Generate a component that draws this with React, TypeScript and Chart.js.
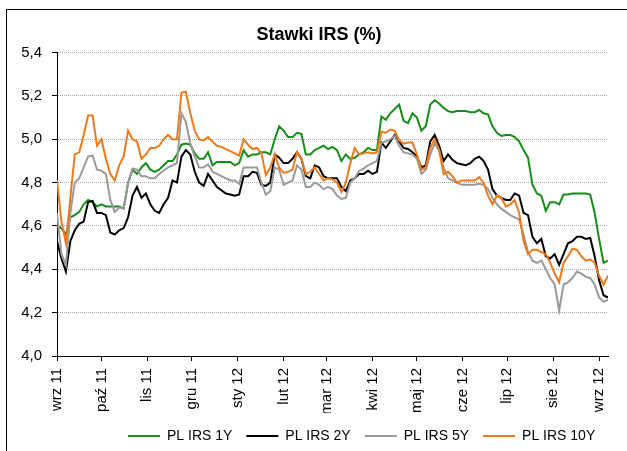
import React, { useEffect, useRef } from "react";
import { Chart, registerables } from "chart.js";

Chart.register(...registerables);

// x positions: calendar days counted from 1 Sep 2011
const days = [
  0, 3, 6, 9, 12, 15, 18, 21, 24, 27,
  30, 33, 36, 39, 42, 45, 48, 51, 54, 57,
  60, 63, 66, 69, 72, 75, 78, 81, 84, 87,
  90, 93, 96, 99, 102, 105, 108, 111, 114, 117,
  120, 123, 126, 129, 132, 135, 138, 141, 144, 147,
  150, 153, 156, 159, 162, 165, 168, 171, 174, 177,
  180, 183, 186, 189, 192, 195, 198, 201, 204, 207,
  210, 213, 216, 219, 222, 225, 228, 231, 234, 237,
  240, 243, 246, 249, 252, 255, 258, 261, 264, 267,
  270, 273, 276, 279, 282, 285, 288, 291, 294, 297,
  300, 303, 306, 309, 312, 315, 318, 321, 324, 327,
  330, 333, 336, 339, 342, 345, 348, 351, 354, 357,
  360, 363, 366, 369, 372,
];

const irs1y = [
  4.60, 4.59, 4.56, 4.64, 4.65, 4.665, 4.70, 4.72, 4.71, 4.69,
  4.70, 4.69, 4.69, 4.69, 4.69, 4.68, 4.80, 4.86, 4.84, 4.87,
  4.89, 4.86, 4.85, 4.86, 4.88, 4.90, 4.90, 4.93, 4.975, 4.98,
  4.975, 4.935, 4.91, 4.91, 4.94, 4.88, 4.895, 4.895, 4.895, 4.895,
  4.88, 4.89, 4.95, 4.92, 4.93, 4.93, 4.94, 4.94, 4.93, 5.00,
  5.06, 5.04, 5.01, 5.01, 5.03, 5.025, 4.93, 4.93, 4.95, 4.96,
  4.97, 4.955, 4.965, 4.95, 4.90, 4.93, 4.91, 4.915, 4.93, 4.94,
  4.96, 4.95, 4.95, 5.105, 5.09, 5.12, 5.14, 5.16, 5.085, 5.075,
  5.12, 5.10, 5.04, 5.06, 5.16, 5.18, 5.165, 5.145, 5.13, 5.125,
  5.13, 5.13, 5.13, 5.125, 5.125, 5.135, 5.12, 5.115, 5.06, 5.03,
  5.015, 5.02, 5.02, 5.01, 4.99, 4.95, 4.915, 4.79, 4.75, 4.74,
  4.67, 4.71, 4.71, 4.70, 4.745, 4.745, 4.75, 4.75, 4.75, 4.75,
  4.745, 4.66, 4.54, 4.43, 4.44,
];

const irs2y = [
  4.53, 4.45, 4.39, 4.53, 4.58, 4.61, 4.62, 4.71, 4.715, 4.66,
  4.66, 4.65, 4.57, 4.56, 4.58, 4.59, 4.64, 4.74, 4.78, 4.73,
  4.75, 4.70, 4.67, 4.66, 4.70, 4.73, 4.81, 4.80, 4.92, 4.95,
  4.93, 4.85, 4.80, 4.785, 4.84, 4.81, 4.78, 4.765, 4.75, 4.745,
  4.74, 4.745, 4.83, 4.83, 4.85, 4.845, 4.79, 4.785, 4.80, 4.93,
  4.915, 4.89, 4.89, 4.91, 4.94, 4.91, 4.83, 4.82, 4.88, 4.87,
  4.83, 4.82, 4.82, 4.82, 4.78, 4.76, 4.81, 4.82, 4.84, 4.84,
  4.855, 4.84, 4.85, 4.985, 4.96, 4.99, 5.02, 4.99, 4.96, 4.955,
  4.94, 4.92, 4.87, 4.88, 4.99, 5.02, 4.97, 4.90, 4.93, 4.905,
  4.89, 4.885, 4.88, 4.89, 4.91, 4.92, 4.90, 4.86, 4.77, 4.74,
  4.73, 4.72, 4.72, 4.75, 4.74, 4.66, 4.65, 4.55, 4.52, 4.54,
  4.46, 4.45, 4.47, 4.42, 4.47, 4.52, 4.53, 4.55, 4.55, 4.54,
  4.545, 4.46, 4.35, 4.28, 4.27,
];

const irs5y = [
  4.66, 4.47, 4.42, 4.66, 4.80, 4.82, 4.87, 4.92, 4.925, 4.86,
  4.855, 4.84, 4.72, 4.665, 4.685, 4.68, 4.80, 4.865, 4.86, 4.83,
  4.83, 4.82, 4.82, 4.84, 4.855, 4.87, 4.88, 4.89, 5.12, 5.08,
  4.98, 4.92, 4.87, 4.87, 4.885, 4.85, 4.84, 4.83, 4.82, 4.81,
  4.81, 4.795, 4.87, 4.87, 4.87, 4.87, 4.80, 4.745, 4.76, 4.87,
  4.86, 4.79, 4.80, 4.81, 4.88, 4.86, 4.78, 4.78, 4.80, 4.79,
  4.77, 4.78, 4.77, 4.74, 4.725, 4.73, 4.80, 4.82, 4.855, 4.865,
  4.88, 4.89, 4.90, 4.985, 4.99, 5.00, 5.015, 4.97, 4.94, 4.935,
  4.93, 4.91, 4.84, 4.86, 4.93, 4.98, 4.95, 4.87, 4.82, 4.81,
  4.80, 4.79, 4.79, 4.79, 4.79, 4.795, 4.79, 4.77, 4.73, 4.70,
  4.68, 4.665, 4.65, 4.64, 4.63, 4.56, 4.48, 4.44, 4.43, 4.44,
  4.40, 4.36, 4.33, 4.21, 4.33, 4.34, 4.36, 4.39, 4.38, 4.365,
  4.36, 4.33, 4.27, 4.25, 4.26,
];

const irs10y = [
  4.81, 4.62, 4.52, 4.73, 4.93, 4.94, 5.02, 5.11, 5.11, 4.97,
  5.00, 4.91, 4.84, 4.81, 4.88, 4.92, 5.04, 5.00, 4.99, 4.91,
  4.93, 4.96, 4.96, 4.97, 5.00, 5.02, 5.00, 5.00, 5.215, 5.22,
  5.12, 5.04, 5.00, 4.995, 5.01, 4.99, 4.97, 4.965, 4.955, 4.945,
  4.935, 4.925, 5.00, 4.975, 4.955, 4.96, 4.935, 4.835, 4.87, 4.93,
  4.87, 4.845, 4.85, 4.86, 4.94, 4.91, 4.84, 4.85, 4.87, 4.84,
  4.81, 4.82, 4.815, 4.80, 4.757, 4.80, 4.89, 4.96, 4.93, 4.935,
  4.94, 4.935, 4.94, 5.035, 5.03, 5.045, 5.04, 4.995, 4.98, 4.985,
  4.985, 4.93, 4.86, 4.87, 4.96, 5.00, 4.95, 4.84, 4.85, 4.83,
  4.80, 4.81, 4.81, 4.81, 4.81, 4.825, 4.80, 4.74, 4.70, 4.74,
  4.73, 4.69, 4.70, 4.72, 4.66, 4.53, 4.47, 4.49, 4.49, 4.48,
  4.47, 4.43, 4.38, 4.34, 4.43, 4.46, 4.495, 4.49, 4.46, 4.44,
  4.445, 4.43, 4.37, 4.33, 4.37,
];

const seriesNames = ["PL IRS 1Y", "PL IRS 2Y", "PL IRS 5Y", "PL IRS 10Y"];
const monthTickDays = [0, 30, 61, 91, 122, 153, 182, 213, 243, 274, 304, 335, 366];
const monthLabels = [
  "wrz 11", "paź 11", "lis 11", "gru 11", "sty 12", "lut 12", "mar 12",
  "kwi 12", "maj 12", "cze 12", "lip 12", "sie 12", "wrz 12",
];
const chartTitle = "Stawki IRS (%)";

export default function App() {
  const ref = useRef<HTMLCanvasElement>(null);

  useEffect(() => {
    const FONT = "'Liberation Sans', Arial, Helvetica, sans-serif";
    const colors = ["#178c17", "#000000", "#9a9a9a", "#ee7a1c"];
    const values = [irs1y, irs2y, irs5y, irs10y];

    const shiftPlugin = {
      id: "shiftBoxes",
      afterLayout(chart: any) {
        const t = chart.titleBlock;
        if (t) {
          t.left += 15;
          t.right += 15;
        }
        const l = chart.legend;
        if (l) {
          l.left += 57.6;
          l.right += 57.6;
          l.top += 2;
          l.bottom += 2;
        }
      },
    };

    const chart = new Chart(ref.current as HTMLCanvasElement, {
      type: "line",
      data: {
        datasets: seriesNames.map((name, k) => ({
          label: name,
          data: days.map((d, i) => ({ x: d, y: values[k][i] })),
          borderColor: colors[k],
          backgroundColor: colors[k],
          borderWidth: 2,
          pointRadius: 0,
          pointHoverRadius: 0,
          fill: false,
          tension: 0,
          order: 4 - k,
        })),
      },
      options: {
        responsive: false,
        animation: false,
        devicePixelRatio: 1,
        layout: { padding: { left: 0, right: 19, top: 0, bottom: 0 } },
        plugins: {
          title: {
            display: true,
            text: chartTitle,
            color: "#000",
            font: { family: FONT, size: 18, weight: "bold", lineHeight: 1.2 },
            padding: { top: 24, bottom: 7 },
          },
          legend: {
            position: "bottom",
            labels: {
              boxWidth: 32,
              boxHeight: 2,
              padding: 14,
              color: "#000",
              font: { family: FONT, size: 14 },
              generateLabels: (c: any) =>
                (Chart.defaults.plugins.legend.labels as any)
                  .generateLabels(c)
                  .map((it: any) => ({ ...it, lineWidth: 0, fillStyle: it.strokeStyle })),
              sort: (a: any, b: any) => a.datasetIndex - b.datasetIndex,
            },
          },
          tooltip: { enabled: false },
        },
        scales: {
          x: {
            type: "linear",
            min: 0,
            max: 372,
            afterBuildTicks: (s: any) => {
              s.ticks = monthTickDays.map((v) => ({ value: v }));
            },
            afterFit: (s: any) => {
              s.height = 57;
            },
            ticks: {
              autoSkip: false,
              maxRotation: 90,
              minRotation: 90,
              padding: 7,
              color: "#000",
              font: { family: FONT, size: 15 },
              callback: (_v: any, i: number) => monthLabels[i],
            },
            grid: {
              drawOnChartArea: false,
              drawTicks: true,
              tickLength: 5,
              tickColor: "#000",
              color: "#000",
            },
            border: { display: true, color: "#000", width: 1 },
          },
          y: {
            min: 4,
            max: 5.4,
            afterFit: (s: any) => {
              s.width = 57;
            },
            ticks: {
              stepSize: 0.2,
              padding: 10,
              color: "#000",
              font: { family: FONT, size: 15 },
              callback: (v: any) => Number(v).toFixed(1).replace(".", ","),
            },
            grid: {
              color: "#a8a8a8",
              lineWidth: 1,
              drawTicks: true,
              tickLength: 5,
              tickColor: "#000",
            },
            border: { display: true, color: "#000", width: 1, dash: [1, 1] },
          },
        },
      },
      plugins: [shiftPlugin],
    } as any);

    return () => chart.destroy();
  }, []);

  return (
    <div
      style={{
        position: "absolute",
        left: 0,
        top: 0,
        width: 627,
        height: 451,
        overflow: "hidden",
        background: "#fff",
      }}
    >
      <div
        style={{
          position: "absolute",
          left: 6,
          top: 9,
          width: 700,
          height: 600,
          border: "1px solid #000",
          boxSizing: "border-box",
        }}
      />
      <canvas
        ref={ref}
        width={627}
        height={451}
        style={{ position: "absolute", left: 0, top: 0, display: "block" }}
      />
    </div>
  );
}
